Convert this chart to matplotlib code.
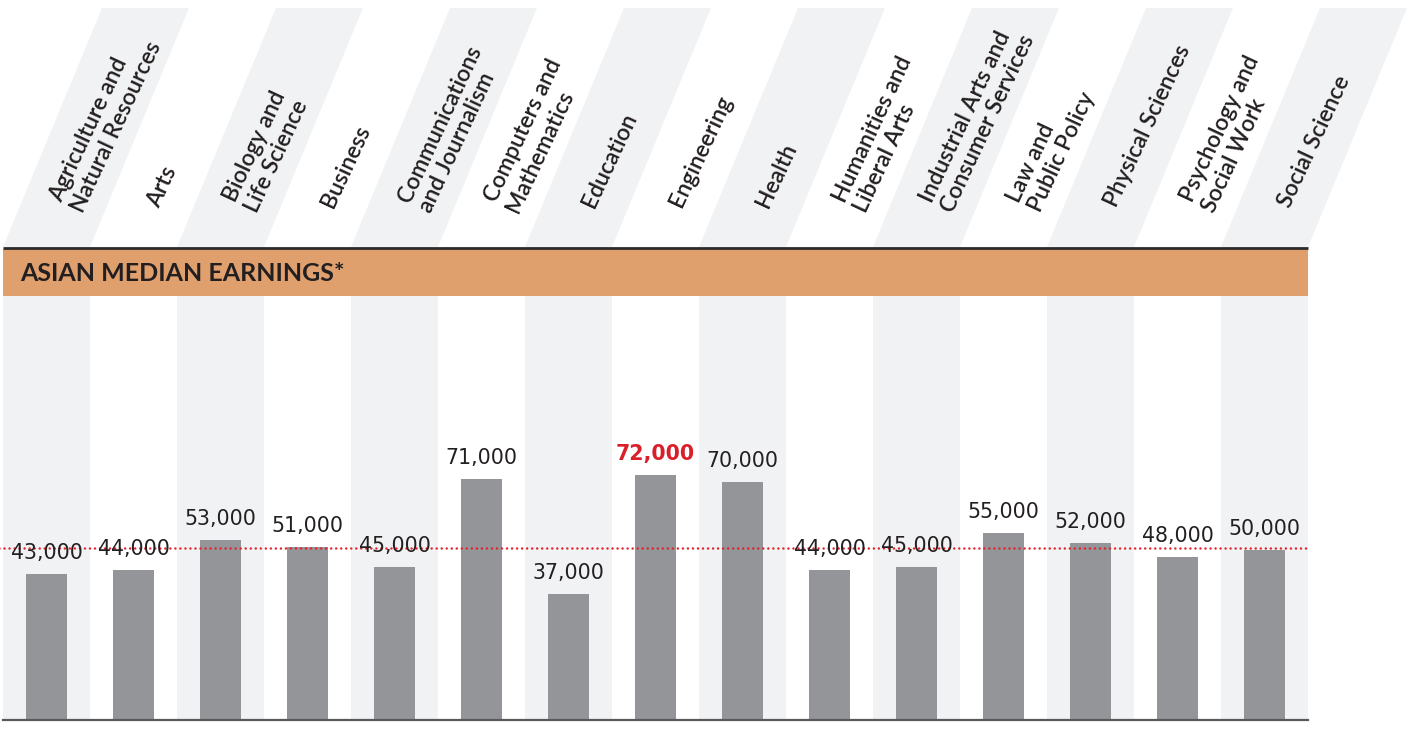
import matplotlib
matplotlib.use("Agg")
import matplotlib.pyplot as plt
from matplotlib.patches import Polygon

# ---- data ----
categories = [
    "Agriculture and\nNatural Resources", "Arts", "Biology and\nLife Science",
    "Business", "Communications\nand Journalism", "Computers and\nMathematics",
    "Education", "Engineering", "Health", "Humanities and\nLiberal Arts",
    "Industrial Arts and\nConsumer Services", "Law and\nPublic Policy",
    "Physical Sciences", "Psychology and\nSocial Work", "Social Science",
]
earnings = [43000, 44000, 53000, 51000, 45000, 71000, 37000, 72000,
            70000, 44000, 45000, 55000, 52000, 48000, 50000]
reference_value = 50500
band_title = "ASIAN MEDIAN EARNINGS*"

# ---- style ----
W, H = 1409, 730
DPI = 100
shade = "#f1f2f3"
bar_color = "#939598"
orange = "#e0a06e"
red = "#d91f2a"
text_dark = "#231f20"

fig = plt.figure(figsize=(W / DPI, H / DPI), dpi=DPI)
fig.patch.set_facecolor("white")

def frac_rect(x0, y_top, x1, y_bottom):
    return [x0 / W, 1 - y_bottom / H, (x1 - x0) / W, (y_bottom - y_top) / H]

n = len(categories)
xs = list(range(n))
col_px = 1305 / n

# ---- bar axes ----
ax = fig.add_axes(frac_rect(3, 296, 1308, 720))
ax.set_xlim(-0.5, n - 0.5)
ax.set_ylim(0, 424 / 3.4 * 1000)
for i in xs:
    if i % 2 == 0:
        ax.axvspan(i - 0.5, i + 0.5, color=shade, lw=0, zorder=0)
ax.bar(xs, earnings, width=0.48, color=bar_color, zorder=2)
vmax = max(earnings)
for x, v in zip(xs, earnings):
    is_max = v == vmax
    ax.annotate(f"{v:,}", xy=(x, v), xytext=(0, 15), textcoords="offset pixels",
                ha="center", va="baseline", fontsize=14.8,
                family="DejaVu Sans",
                fontweight="bold" if is_max else "normal",
                color=red if is_max else text_dark, zorder=4)
ax.axhline(reference_value, xmin=-0.003, xmax=1, color="#e3202b", lw=1.8,
           linestyle=(0, (0.01, 2.0)), dash_capstyle="round", zorder=3,
           clip_on=False)
ax.axhline(0, color="#58595b", lw=1.6, zorder=5, clip_on=False)
for s in ax.spines.values():
    s.set_visible(False)
ax.set_xticks([])
ax.set_yticks([])
ax.patch.set_alpha(0)

# ---- orange band ----
band = fig.add_axes(frac_rect(3, 249, 1308, 296))
band.set_facecolor(orange)
band.set_xticks([])
band.set_yticks([])
for s in band.spines.values():
    s.set_visible(False)
band.text(17 / 1305, 0.48, band_title, transform=band.transAxes, ha="left",
          va="center", fontsize=18, fontweight="bold", family="Lato",
          color="#231f20")

# ---- header ----
hdr = fig.add_axes(frac_rect(3, 8, 1308, 247))
hdr.set_xlim(-0.5, n - 0.5)
hdr.set_ylim(0, 1)
hdr.axis("off")
slant = 99 / col_px
for i in xs:
    if i % 2 == 0:
        poly = Polygon([(i - 0.5, 0), (i + 0.5, 0), (i + 0.5 + slant, 1),
                        (i - 0.5 + slant, 1)], closed=True, facecolor=shade,
                       edgecolor="none", clip_on=False, zorder=0)
        hdr.add_patch(poly)
label_y = (247 - 206) / 239
for i, lab in zip(xs, categories):
    hdr.text(i + 20 / col_px, label_y, lab, rotation=65, rotation_mode="anchor",
             ha="left", va="center", multialignment="left", fontsize=16.5,
             fontweight="semibold", family="Lato", color="#231f20",
             linespacing=1.15, zorder=2)
hdr.plot([-0.5, n - 0.5], [-0.003, -0.003], color="#2b2b2b", lw=2.0,
         clip_on=False, zorder=3, solid_capstyle="butt")

fig.savefig("out.png", dpi=DPI, facecolor="white")
